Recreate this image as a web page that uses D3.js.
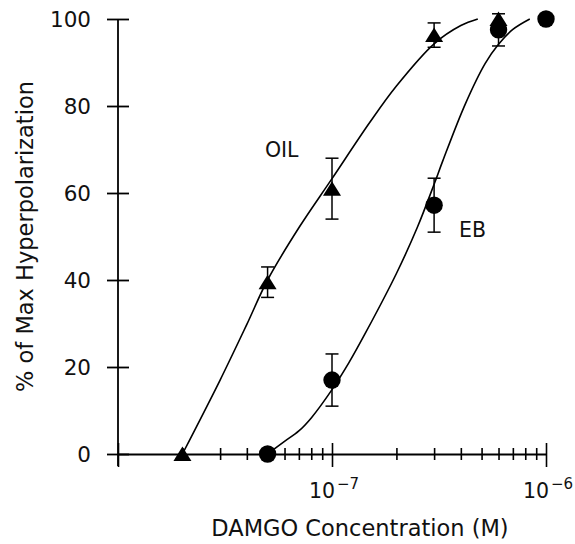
<!DOCTYPE html>
<html>
<head>
<meta charset="utf-8">
<script src="https://cdn.jsdelivr.net/npm/d3@7"></script>
<style>
    html, body { margin: 0; padding: 0; background: #fff; }
    svg { display: block; }
    text { font-family: "DejaVu Sans", sans-serif; fill: #111; }
</style>
</head>
<body>
<div id="chart"></div>
<script>
    "use strict";

    // measured points (concentration in M, % of max hyperpolarization)
    var oilConc = [2e-8, 5e-8, 1e-7, 3e-7, 6e-7],
        oilMean = [0, 39.5, 61, 96.3, 100],
        oilErr = [0, 3.5, 7, 2.8, 0];

    var ebConc = [5e-8, 1e-7, 3e-7, 6e-7, 1e-6],
        ebMean = [0, 17, 57.2, 97.5, 100],
        ebErr = [0, 6, 6.2, 3.7, 0];

    // fitted curves
    var oilCurveConc = [2e-8, 3e-8, 4e-8, 5e-8, 7e-8, 1e-7, 1.5e-7, 2e-7, 3e-7, 4e-7, 4.8e-7],
        oilCurveY = [0, 17, 29.8, 40, 52, 63.3, 76.2, 84.6, 94.3, 98.5, 100];

    var ebCurveConc = [5e-8, 6e-8, 7e-8, 8e-8, 1e-7, 1.2e-7, 1.44e-7, 2e-7, 2.5e-7, 3e-7, 3.3e-7, 4.2e-7, 5.2e-7, 6e-7, 7e-7, 8.4e-7],
        ebCurveY = [0, 2.9, 5.3, 8.3, 14.8, 21, 28, 41.5, 52, 62, 67.5, 80.5, 89.8, 94.2, 97.6, 100];

    var yTicks = [0, 20, 40, 60, 80, 100],
        xMajor = [1e-8, 1e-7, 1e-6],
        xMajorExp = [-8, -7, -6];

    var w = 575, h = 544;

    var svg = d3.select("#chart")
        .append("svg")
        .attr("width", w)
        .attr("height", h);

    var x = d3.scaleLog().domain([1e-8, 1e-6]).range([118, 546]),
        y = d3.scaleLinear().domain([0, 100]).range([454, 19]);

    // all log ticks between 1e-8 and 1e-6
    var xTicks = x.ticks();

    var isMajor = function (v) {
        return xMajor.some(function (m) { return Math.abs(v / m - 1) < 1e-6; });
    };

    // y axis
    var yAxis = svg.append("g")
        .attr("transform", "translate(" + x(1e-8) + ",0)")
        .call(d3.axisLeft(y).tickValues(yTicks).tickSize(11).tickSizeOuter(0).tickPadding(16));

    yAxis.select(".domain").remove();
    yAxis.selectAll(".tick line")
        .attr("x1", 11)
        .attr("stroke", "#000")
        .attr("stroke-width", 1.8);
    yAxis.selectAll(".tick text")
        .attr("font-family", "DejaVu Sans")
        .attr("font-size", 21.5)
        .attr("dy", "0.36em");

    svg.append("line")
        .attr("x1", x(1e-8)).attr("x2", x(1e-8))
        .attr("y1", y(100)).attr("y2", y(0) + 12)
        .attr("stroke", "#000")
        .attr("stroke-width", 1.8);

    // x axis
    var xAxis = svg.append("g")
        .attr("transform", "translate(0," + y(0) + ")")
        .call(d3.axisBottom(x).tickValues(xTicks).tickSize(6).tickSizeOuter(0).tickFormat(""));

    xAxis.select(".domain")
        .attr("stroke", "#000")
        .attr("stroke-width", 1.8);
    xAxis.selectAll(".tick line")
        .attr("stroke", "#000")
        .attr("stroke-width", 1.6)
        .attr("y1", function (d) { return isMajor(d) ? -11 : -6; })
        .attr("y2", function (d) { return isMajor(d) ? 13 : 6; });
    xAxis.selectAll(".tick text").remove();

    var xLabels = svg.append("g")
        .selectAll("text")
        .data(xMajor.slice(1))
        .enter()
        .append("text")
        .attr("x", function (d) { return x(d) + 2; })
        .attr("y", y(0) + 44)
        .attr("text-anchor", "middle")
        .attr("font-size", 20.5);

    xLabels.append("tspan").text("10");
    xLabels.append("tspan")
        .attr("dy", -9)
        .attr("dx", 2)
        .attr("font-size", 15)
        .text(function (d, i) { return "\u2212" + Math.abs(xMajorExp[i + 1]); });

    // axis titles
    svg.append("text")
        .attr("x", 360)
        .attr("y", 536)
        .attr("text-anchor", "middle")
        .attr("font-size", 22.5)
        .text("DAMGO Concentration (M)");

    svg.append("text")
        .attr("transform", "translate(33," + y(50) + ") rotate(-90)")
        .attr("text-anchor", "middle")
        .attr("font-size", 22.5)
        .text("% of Max Hyperpolarization");

    // curves
    var line = d3.line()
        .x(function (d) { return x(d[0]); })
        .y(function (d) { return y(d[1]); })
        .curve(d3.curveCatmullRom.alpha(0.5));

    var curves = [d3.zip(oilCurveConc, oilCurveY), d3.zip(ebCurveConc, ebCurveY)];

    svg.append("g")
        .selectAll("path")
        .data(curves)
        .enter()
        .append("path")
        .attr("d", line)
        .attr("fill", "none")
        .attr("stroke", "#000")
        .attr("stroke-width", 1.6);

    // error bars
    var oilPts = oilConc.map(function (c, i) { return { c: c, m: oilMean[i], e: oilErr[i] }; }),
        ebPts = ebConc.map(function (c, i) { return { c: c, m: ebMean[i], e: ebErr[i] }; });

    var drawErrors = function (pts) {
        var g = svg.append("g")
            .attr("stroke", "#000")
            .attr("stroke-width", 1.5);
        var bars = g.selectAll("g")
            .data(pts.filter(function (d) { return d.e > 0; }))
            .enter()
            .append("g");

        bars.append("line")
            .attr("x1", function (d) { return x(d.c); })
            .attr("x2", function (d) { return x(d.c); })
            .attr("y1", function (d) { return y(d.m - d.e); })
            .attr("y2", function (d) { return y(d.m + d.e); });

        [-1, 1].forEach(function (s) {
            bars.append("line")
                .attr("x1", function (d) { return x(d.c) - 6.5; })
                .attr("x2", function (d) { return x(d.c) + 6.5; })
                .attr("y1", function (d) { return y(d.m + s * d.e); })
                .attr("y2", function (d) { return y(d.m + s * d.e); });
        });
    };

    drawErrors(ebPts);
    drawErrors(oilPts);

    // markers
    svg.append("g")
        .selectAll("circle")
        .data(ebPts)
        .enter()
        .append("circle")
        .attr("cx", function (d) { return x(d.c); })
        .attr("cy", function (d) { return y(d.m); })
        .attr("r", 8.7)
        .attr("fill", "#000");

    svg.append("g")
        .selectAll("path")
        .data(oilPts)
        .enter()
        .append("path")
        .attr("transform", function (d) { return "translate(" + x(d.c) + "," + y(d.m) + ")"; })
        .attr("d", "M0,-7.5L9,7L-9,7Z")
        .attr("fill", "#000");

    // series labels
    svg.append("text")
        .attr("x", x(4.86e-8))
        .attr("y", y(68.3))
        .attr("font-size", 20.5)
        .text("OIL");

    svg.append("text")
        .attr("x", x(3.92e-7))
        .attr("y", y(50))
        .attr("font-size", 20.5)
        .text("EB");
</script>
</body>
</html>
